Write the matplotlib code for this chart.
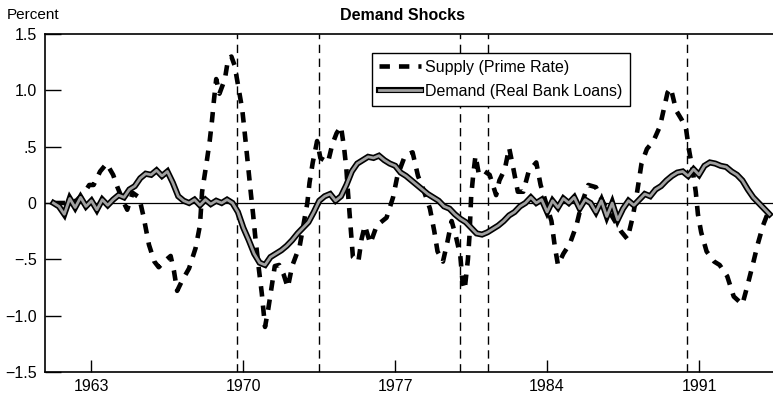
import matplotlib
matplotlib.use("Agg")
import matplotlib.pyplot as plt
import numpy as np

plt.rcParams['font.family'] = ['Liberation Sans', 'DejaVu Sans']
plt.rcParams['lines.scale_dashes'] = False

# ---- data ----
title = "Demand Shocks"
ylabel = "Percent"
xticks = [1963, 1970, 1977, 1984, 1991]
yticks = [1.5, 1.0, 0.5, 0.0, -0.5, -1.0, -1.5]
ytick_labels = ["1.5", "1.0", ".5", "0", "\u2212.5", "\u22121.0", "\u22121.5"]
recessions = [1969.70, 1973.48, 1979.98, 1981.27, 1990.43]

demand_start = 1961.25
demand = [
    0.00, -0.03, -0.10,                 # 1961
    0.04, -0.04, 0.05, -0.03,           # 1962
    0.02, -0.06, 0.03, -0.02,           # 1963
    0.03, 0.07, 0.05, 0.12,             # 1964
    0.15, 0.22, 0.26, 0.25,             # 1965
    0.29, 0.24, 0.28, 0.18,             # 1966
    0.06, 0.02, 0.00, 0.03,             # 1967
    -0.02, 0.03, -0.01, 0.02,           # 1968
    0.00, 0.03, 0.00, -0.08,            # 1969
    -0.22, -0.33, -0.45, -0.53,         # 1970
    -0.55, -0.48, -0.45, -0.42,         # 1971
    -0.38, -0.33, -0.27, -0.22,         # 1972
    -0.17, -0.08, 0.02, 0.06,           # 1973
    0.08, 0.02, 0.06, 0.16,             # 1974
    0.28, 0.35, 0.38, 0.41,             # 1975
    0.40, 0.42, 0.38, 0.35,             # 1976
    0.33, 0.27, 0.24, 0.20,             # 1977
    0.16, 0.12, 0.08, 0.05,             # 1978
    0.02, -0.03, -0.05, -0.10,          # 1979
    -0.14, -0.17, -0.22, -0.27,         # 1980
    -0.28, -0.26, -0.23, -0.20,         # 1981
    -0.16, -0.11, -0.08, -0.03,         # 1982
    0.00, 0.05, 0.00, 0.03,             # 1983
    -0.08, 0.02, -0.04, 0.04,           # 1984
    0.00, 0.05, -0.05, 0.03,            # 1985
    0.00, -0.08, 0.02, -0.12,           # 1986
    0.00, -0.15, -0.05, 0.02,           # 1987
    -0.02, 0.03, 0.08, 0.06,            # 1988
    0.12, 0.15, 0.20, 0.24,             # 1989
    0.27, 0.28, 0.24, 0.30,             # 1990
    0.25, 0.33, 0.36, 0.35,             # 1991
    0.33, 0.32, 0.28, 0.25,             # 1992
    0.20, 0.12, 0.05, 0.00,             # 1993
    -0.05, -0.10,                       # 1994
]

supply_years = [
    1961.3, 1961.8, 1962.3, 1962.7, 1962.9, 1963.1, 1963.4, 1963.7, 1964.0, 1964.2,
    1964.5, 1964.65, 1964.9, 1965.2, 1965.4, 1965.65, 1965.9, 1966.1, 1966.35, 1966.65,
    1966.8, 1966.95, 1967.15, 1967.5, 1967.8, 1968.0, 1968.1, 1968.3, 1968.45, 1968.55,
    1968.65, 1968.75, 1968.9, 1969.15, 1969.3, 1969.45, 1969.6, 1969.8, 1969.95, 1970.05,
    1970.15, 1970.25, 1970.35, 1970.45, 1970.55, 1970.7, 1970.85, 1971.0, 1971.15, 1971.3,
    1971.45, 1971.65, 1971.85, 1972.05, 1972.25, 1972.6, 1972.8, 1972.95, 1973.05, 1973.2,
    1973.4, 1973.55, 1973.9, 1974.1, 1974.3, 1974.5, 1974.65, 1974.75, 1974.82, 1974.9,
    1974.97, 1975.05, 1975.3, 1975.45, 1975.6, 1975.85, 1976.15, 1976.6, 1976.9, 1977.1,
    1977.45, 1977.8, 1978.05, 1978.3, 1978.6, 1978.8, 1978.95, 1979.2, 1979.4, 1979.6,
    1979.8, 1980.0, 1980.1, 1980.2, 1980.35, 1980.42, 1980.5, 1980.6, 1980.7, 1980.85,
    1981.05, 1981.35, 1981.65, 1981.8, 1982.05, 1982.25, 1982.45, 1982.65, 1982.9, 1983.15,
    1983.5, 1983.7, 1983.95, 1984.2, 1984.35, 1984.5, 1984.75, 1985.05, 1985.35, 1985.6,
    1985.9, 1986.25, 1986.6, 1987.0, 1987.4, 1987.7, 1987.95, 1988.15, 1988.35, 1988.6,
    1988.9, 1989.2, 1989.4, 1989.55, 1989.7, 1989.95, 1990.2, 1990.4, 1990.55, 1990.7,
    1990.85, 1990.95, 1991.1, 1991.35, 1991.7, 1991.95, 1992.3, 1992.6, 1993.0, 1993.25,
    1993.5, 1993.7, 1993.95, 1994.25,
]
supply = [
    0.00, 0.00, 0.02, 0.10, 0.16, 0.16, 0.28, 0.35, 0.25, 0.14,
    0.00, -0.06, 0.09, 0.05, -0.12, -0.37, -0.52, -0.57, -0.52, -0.47,
    -0.60, -0.78, -0.70, -0.58, -0.40, -0.20, 0.10, 0.35, 0.55, 0.72,
    0.92, 1.10, 0.97, 1.10, 1.28, 1.30, 1.22, 1.00, 0.83, 0.65,
    0.46, 0.27, 0.08, -0.10, -0.30, -0.56, -0.80, -1.10, -0.94, -0.75,
    -0.56, -0.55, -0.63, -0.75, -0.56, -0.38, -0.16, 0.00, 0.18, 0.36,
    0.55, 0.40, 0.36, 0.52, 0.62, 0.68, 0.48, 0.30, 0.10, -0.10,
    -0.28, -0.48, -0.52, -0.32, -0.20, -0.36, -0.20, -0.13, 0.05, 0.24,
    0.42, 0.45, 0.24, 0.12, -0.05, -0.25, -0.43, -0.52, -0.35, -0.16,
    -0.30, -0.47, -0.70, -0.77, -0.50, -0.30, 0.06, 0.26, 0.42, 0.26,
    0.29, 0.25, 0.07, 0.20, 0.30, 0.49, 0.30, 0.10, 0.10, 0.28,
    0.36, 0.16, 0.00, -0.16, -0.38, -0.55, -0.45, -0.36, -0.20, 0.00,
    0.16, 0.14, 0.00, -0.12, -0.25, -0.32, -0.12, 0.10, 0.35, 0.48,
    0.55, 0.68, 0.85, 0.98, 1.02, 0.82, 0.74, 0.66, 0.46, 0.30,
    0.10, -0.10, -0.26, -0.43, -0.52, -0.55, -0.65, -0.83, -0.90, -0.72,
    -0.53, -0.37, -0.20, -0.05,
]

demand_years = demand_start + 0.25 * np.arange(len(demand))

# ---- figure ----
W, H = 773, 400
fig = plt.figure(figsize=(W / 100, H / 100), dpi=100)
ax = fig.add_axes([45 / W, (H - 372) / H, (W - 45) / W, (372 - 34) / H])

ax.axhline(0, color='black', lw=0.9, zorder=1)
for r in recessions:
    ax.axvline(r, color='black', lw=1.0, dashes=(6, 4), zorder=1)

sup_line, = ax.plot(supply_years, supply, color='black', lw=3.3,
                    dashes=(7.5, 6.5), dash_capstyle='butt', zorder=3)
dem_edge, = ax.plot(demand_years, demand, color='black', lw=4.4,
                    solid_joinstyle='miter', zorder=4)
dem_fill, = ax.plot(demand_years, demand, color='#a0a0a0', lw=2.0, zorder=5)

ax.set_xlim(1960.86, 1994.41)
ax.set_ylim(-1.5, 1.5)
ax.set_xticks(xticks)
ax.set_xticklabels([str(x) for x in xticks])
ax.set_yticks(yticks)
ax.set_yticklabels(ytick_labels)
ax.tick_params(axis='y', direction='in', length=11.5, width=1.0, labelsize=11.5, pad=6)
ax.tick_params(axis='x', direction='in', length=8.5, width=1.0, labelsize=11.5, pad=5)
for s in ['left', 'bottom', 'top']:
    ax.spines[s].set_linewidth(1.2)
ax.spines['right'].set_visible(False)

leg = ax.legend([sup_line, (dem_edge, dem_fill)],
                ["Supply (Prime Rate)", "Demand (Real Bank Loans)"],
                loc='upper left', bbox_to_anchor=(0.449, 0.945),
                frameon=True, fancybox=False, framealpha=1, edgecolor='black',
                fontsize=11.5, handlelength=2.6, handletextpad=0.3,
                labelspacing=0.55, borderpad=0.45, borderaxespad=0)
leg.get_frame().set_linewidth(1.0)

fig.text(7 / W, 1 - 15 / H, ylabel, fontsize=11, va='center', ha='left')
fig.text(403 / W, 1 - 15 / H, title, fontsize=11.5, fontweight='bold',
         va='center', ha='center')

fig.savefig("out.png", dpi=100)
